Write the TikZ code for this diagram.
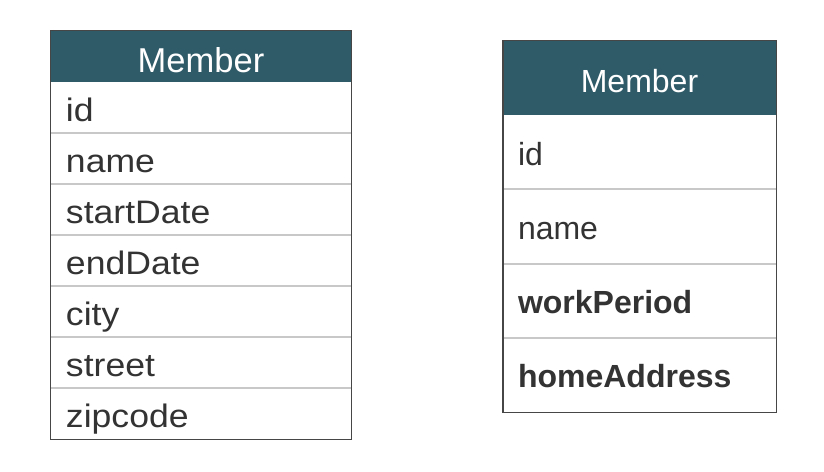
\documentclass[tikz,border=0pt]{standalone}
\usepackage{fontspec}
\setmainfont{Liberation Sans}
\newfontfamily\leftfont[FakeStretch=1.095]{Liberation Sans}
\newfontfamily\rightfont{Liberation Sans}
\definecolor{hdr}{RGB}{47,91,104}
\definecolor{bord}{RGB}{70,70,70}
\definecolor{sep}{RGB}{200,200,200}
\definecolor{txt}{RGB}{51,51,51}
\tikzset{
  lcell/.style={rectangle, fill=white, minimum width=300bp, text width=270bp, align=left,
    inner xsep=15bp, inner ysep=0pt, minimum height=51bp, text height=28.5bp, text depth=0pt,
    text=txt, font=\leftfont\fontsize{32.5bp}{37bp}\selectfont},
  lhead/.style={rectangle, fill=hdr, minimum width=300bp, text width=270bp, align=center,
    inner xsep=15bp, inner ysep=0pt, minimum height=51bp, text height=32bp, text depth=0pt,
    text=white, font=\rightfont\fontsize{34.5bp}{40bp}\selectfont},
  rcell/.style={rectangle, fill=white, minimum width=273bp, text width=243bp, align=left,
    inner xsep=15bp, inner ysep=0pt, minimum height=74.25bp, text height=26bp, text depth=0pt,
    text=txt, font=\rightfont\fontsize{32bp}{37bp}\selectfont},
  rhead/.style={rectangle, fill=hdr, minimum width=273bp, text width=243bp, align=center,
    inner xsep=15bp, inner ysep=0pt, minimum height=74bp, text height=29.5bp, text depth=0pt,
    text=white, font=\rightfont\fontsize{32bp}{38bp}\selectfont},
  sepline/.style={draw=sep, line width=2bp},
  frame/.style={draw=bord, line width=1.4bp}
}
\begin{document}
\begin{tikzpicture}[x=1bp,y=-1bp]
\useasboundingbox (0,0) rectangle (824,472);
% left table
\node[lhead] (lh) at (201,56.5) {Member};
\node[lcell] (l1) at (201,107.5) {id};
\node[lcell] (l2) at (201,158.5) {name};
\node[lcell] (l3) at (201,209.5) {startDate};
\node[lcell] (l4) at (201,260.5) {endDate};
\node[lcell] (l5) at (201,311.5) {city};
\node[lcell] (l6) at (201,362.5) {street};
\node[lcell] (l7) at (201,413.5) {zipcode};
\foreach \n in {l1,l2,l3,l4,l5,l6}{
  \draw[sepline] (\n.south west) -- (\n.south east);
}
\draw[frame] (lh.north west) rectangle (l7.south east);
% right table
\node[rhead] (rh) at (639.5,78) {Member};
\node[rcell] (r1) at (639.5,152.1) {id};
\node[rcell] (r2) at (639.5,226.4) {name};
\node[rcell] (r3) at (639.5,300.6) {\bfseries workPeriod};
\node[rcell] (r4) at (639.5,374.9) {\bfseries homeAddress};
\foreach \n in {r1,r2,r3}{
  \draw[sepline] (\n.south west) -- (\n.south east);
}
\draw[frame] (rh.north west) rectangle (r4.south east);
\end{tikzpicture}
\end{document}
